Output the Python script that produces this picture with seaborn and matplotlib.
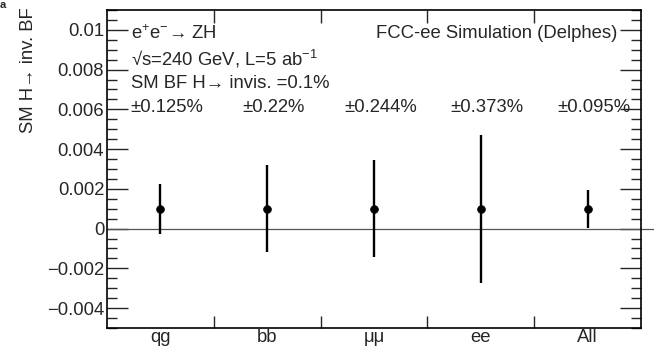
import numpy as np
import pandas as pd
import matplotlib
matplotlib.use("Agg")
import matplotlib.pyplot as plt
import seaborn as sns
from matplotlib.ticker import MultipleLocator, FixedLocator, NullFormatter, FixedFormatter

categories = ["qg", "bb", "μμ", "ee", "All"]
central = [0.001, 0.001, 0.001, 0.001, 0.001]
uncert = [0.00125, 0.0022, 0.00244, 0.00373, 0.00095]
unc_labels = ["±0.125%", "±0.22%", "±0.244%", "±0.373%", "±0.095%"]

sns.set_theme(style="ticks")
plt.rcParams['font.family'] = ['Liberation Sans', 'DejaVu Sans']
plt.rcParams['mathtext.fontset'] = 'custom'
plt.rcParams['mathtext.rm'] = 'Liberation Sans'
plt.rcParams['mathtext.it'] = 'Liberation Sans'

FS = 13.3

df = pd.DataFrame({"pos": np.arange(len(categories)), "cat": categories,
                   "val": central, "err": uncert})

fig = plt.figure(figsize=(6.54, 3.46), dpi=100)
ax = fig.add_axes([107/654, 1 - 328/346, (641-107)/654, (328-10)/346])

ax.vlines(df["pos"], df["val"] - df["err"], df["val"] + df["err"], color="black", lw=1.7, zorder=3)
sns.scatterplot(data=df, x="pos", y="val", ax=ax, color="black", s=32, edgecolor="black", zorder=4, legend=False)

ax.set_xlim(-0.5, 4.5)
ax.set_ylim(-0.005, 0.011)

# zero line, extends past right axis
ax.plot([-0.5, 4.5 + 13/106.8], [0, 0], color="#555555", lw=0.9, clip_on=False, zorder=2)

ax.set_yticks([-0.004, -0.002, 0, 0.002, 0.004, 0.006, 0.008, 0.01])
ax.set_yticklabels(["\u22120.004", "\u22120.002", "0", "0.002", "0.004", "0.006", "0.008", "0.01"])
ax.yaxis.set_minor_locator(MultipleLocator(0.0005))
ax.xaxis.set_major_locator(FixedLocator([0.5, 1.5, 2.5, 3.5]))
ax.xaxis.set_major_formatter(NullFormatter())
ax.xaxis.set_minor_locator(FixedLocator(list(range(len(categories)))))
ax.xaxis.set_minor_formatter(FixedFormatter(categories))
ax.tick_params(axis="x", which="minor", length=0, labelsize=FS, pad=1)
ax.tick_params(axis="x", which="major", direction="in", length=9, top=True, width=1)
ax.tick_params(axis="y", which="major", direction="in", length=15, right=True, labelsize=FS, width=1, pad=2)
ax.tick_params(axis="y", which="minor", direction="in", length=7, right=True, width=1)
for s in ax.spines.values():
    s.set_linewidth(1.2)
    s.set_color("black")

ax.set_xlabel("")
ax.set_ylabel("SM H\u2192 inv. BF", fontsize=FS)
ax.yaxis.set_label_coords(-0.131, 1.01)
ax.yaxis.label.set_horizontalalignment("right")

ax.text(0.045, 0.925, "e$^{+}$e$^{-}$\u2192 ZH", transform=ax.transAxes, fontsize=FS, va="center")
ax.text(0.045, 0.845, "\u221as=240 GeV, L=5 ab$^{-1}$", transform=ax.transAxes, fontsize=FS, va="center")
ax.text(0.045, 0.77, "SM BF H\u2192 invis. =0.1%", transform=ax.transAxes, fontsize=FS, va="center")
ax.text(0.955, 0.925, "FCC-ee Simulation (Delphes)", transform=ax.transAxes, fontsize=FS, va="center", ha="right")
for i, lab in enumerate(unc_labels):
    ax.text(i + 0.06, 0.0061, lab, fontsize=FS, ha="center", va="center")

fig.text(0.0, 1.0, "a", fontsize=8, fontweight="bold", va="top", ha="left")

fig.savefig("out.png", dpi=100)
